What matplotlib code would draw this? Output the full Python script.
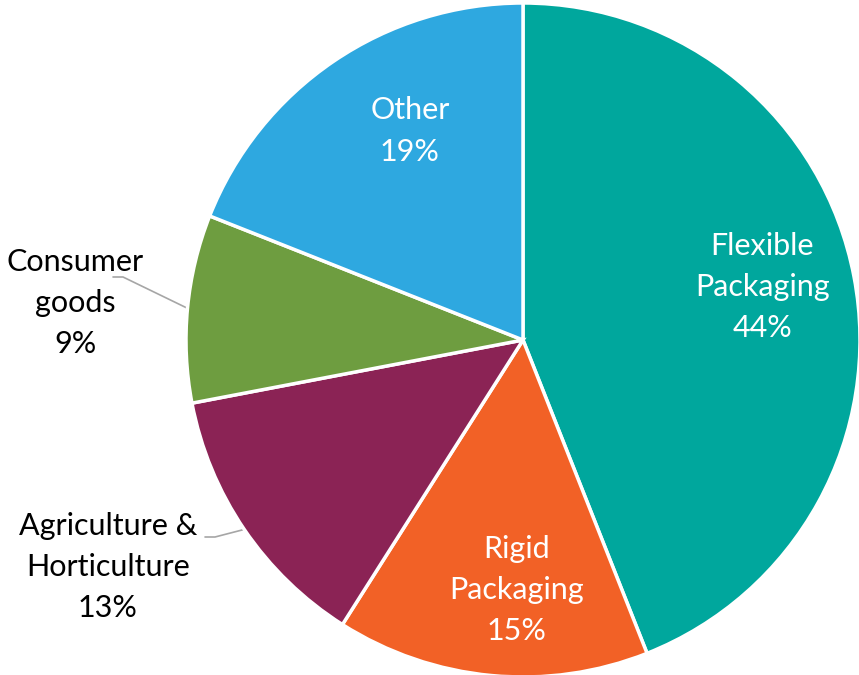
import numpy as np
import matplotlib
matplotlib.use("Agg")
import matplotlib.pyplot as plt

categories = ["Flexible\nPackaging", "Rigid\nPackaging", "Agriculture &\nHorticulture",
              "Consumer\ngoods", "Other"]
shares = [44, 15, 13, 9, 19]
colors = ["#00A79D", "#F26126", "#8B2355", "#6E9D40", "#2EA8E0"]
label_colors = ["white", "white", "black", "black", "white"]

plt.rcParams["font.family"] = ["Lato", "DejaVu Sans"]

W, H = 859, 675
fig = plt.figure(figsize=(W / 100, H / 100), dpi=100)
ax = fig.add_axes([0, 0, 1, 1])

# pie geometry in pixel terms: centre and radius
cx, cy, R = 523, 340, 337

wedges, _ = ax.pie(shares, colors=colors, startangle=90, counterclock=False,
                   radius=1.0, wedgeprops=dict(edgecolor="white", linewidth=2.5))

ax.set_xlim(-cx / R, (W - cx) / R)
ax.set_ylim(-(H - cy) / R, cy / R)
ax.set_aspect("equal")
ax.axis("off")

total = sum(shares)
cum = np.cumsum([0] + shares[:-1])
mid_deg = [90 - 360 * (c + s / 2) / total for c, s in zip(cum, shares)]

fs = 22
ls = 1.58
# inside labels: (clockwise angle from 12 o'clock, distance as fraction of radius)
inside = {0: (77.5, 0.727), 1: (181.4, 0.742), 4: (331.6, 0.705)}
for i, (ang, r) in inside.items():
    th = np.deg2rad(90 - ang)
    ax.text(r * np.cos(th), r * np.sin(th), f"{categories[i]}\n{shares[i]}%",
            ha="center", va="center", fontsize=fs, color=label_colors[i],
            linespacing=ls)

# outside labels with leader lines
outside = {
    2: dict(label=(-415 / R, -227 / R), path=[(-318 / R, -197 / R), (-308 / R, -197 / R)]),
    3: dict(label=(-448 / R, 37 / R), path=[(-410 / R, 63 / R), (-400 / R, 63 / R)]),
}
for i, spec in outside.items():
    th = np.deg2rad(mid_deg[i])
    ex, ey = np.cos(th), np.sin(th)
    lx, ly = spec["label"]
    ax.text(lx, ly, f"{categories[i]}\n{shares[i]}%", ha="center", va="center",
            fontsize=fs, color="black", linespacing=ls)
    xs = [p[0] for p in spec["path"]] + [ex]
    ys = [p[1] for p in spec["path"]] + [ey]
    ax.plot(xs, ys, color="#A6A6A6", lw=1.2, solid_capstyle="round", zorder=0)

fig.savefig("out.png", dpi=100)
